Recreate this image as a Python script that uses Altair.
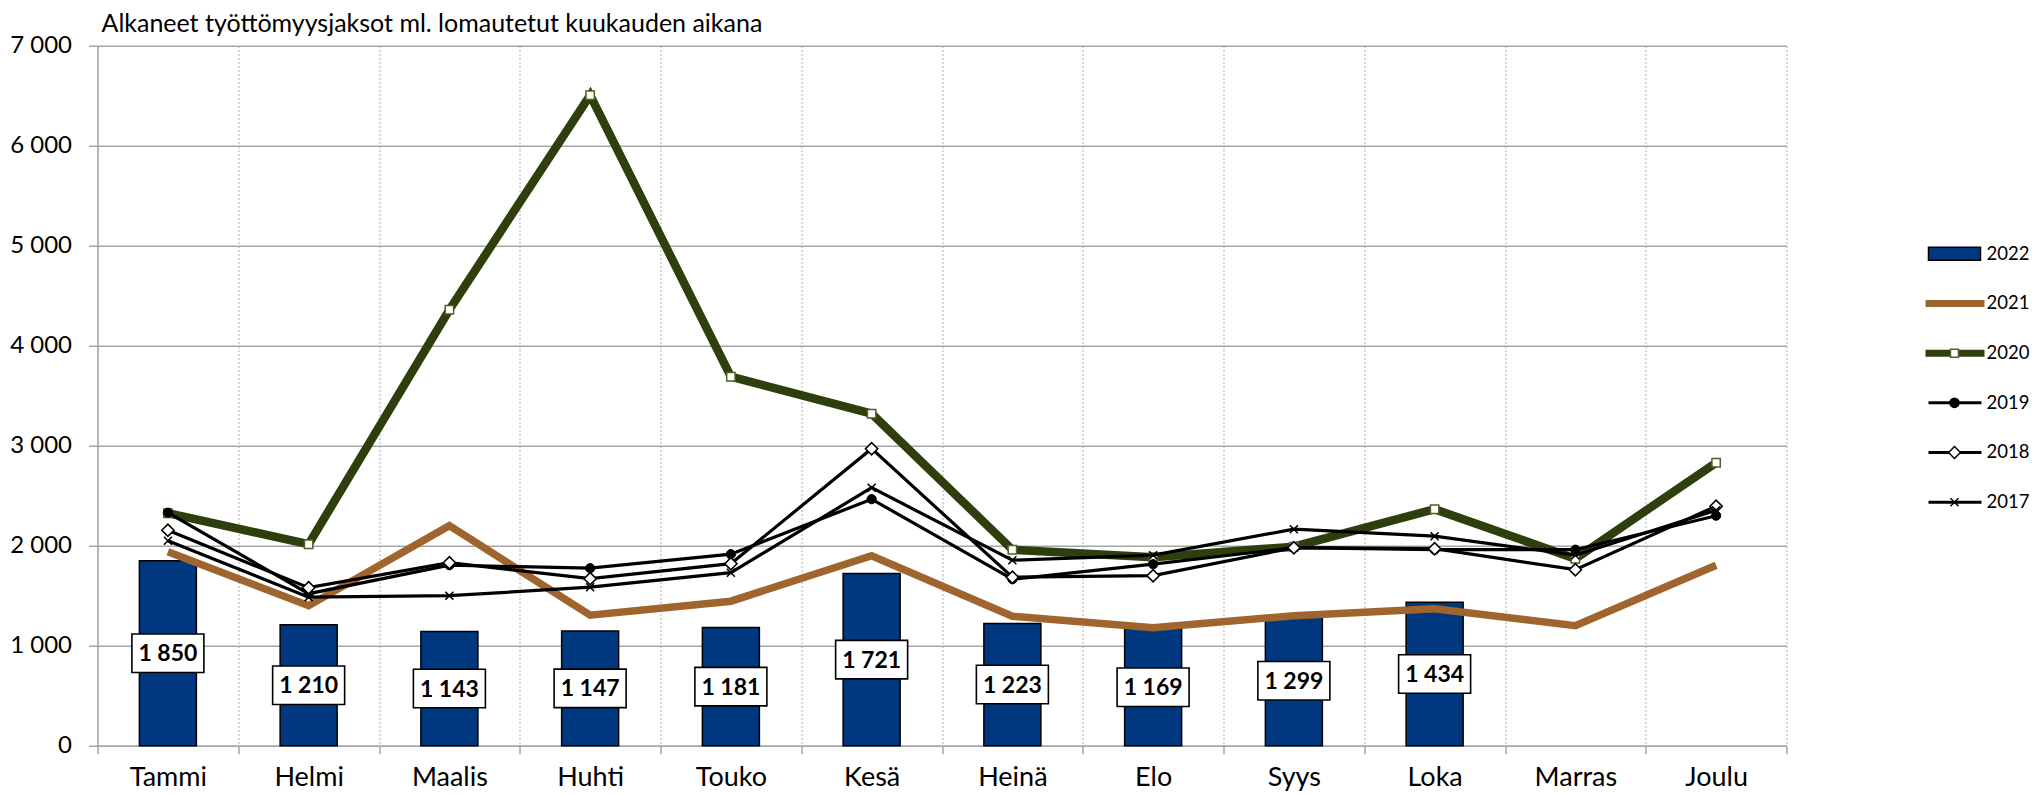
import altair as alt
import pandas as pd

# ---------------- data ----------------
months = ["Tammi", "Helmi", "Maalis", "Huhti", "Touko", "Kesä",
          "Heinä", "Elo", "Syys", "Loka", "Marras", "Joulu"]
v2022 = [1850, 1210, 1143, 1147, 1181, 1721, 1223, 1169, 1299, 1434]
v2021 = [1940, 1400, 2200, 1305, 1445, 1900, 1295, 1180, 1300, 1370, 1200, 1805]
v2020 = [2325, 2015, 4360, 6505, 3690, 3320, 1960, 1885, 1990, 2365, 1870, 2830]
v2019 = [2330, 1520, 1805, 1775, 1915, 2465, 1665, 1815, 1980, 1960, 1960, 2300]
v2018 = [2155, 1580, 1830, 1670, 1820, 2970, 1685, 1700, 1980, 1970, 1760, 2395]
v2017 = [2050, 1485, 1500, 1585, 1730, 2580, 1855, 1905, 2165, 2095, 1905, 2355]
years = ["2022", "2021", "2020", "2019", "2018", "2017"]
title_text = "Alkaneet työttömyysjaksot ml. lomautetut kuukauden aikana"

# ---------------- style ----------------
FONT = "Lato"
BLUE = "#00387F"
BROWN = "#A0652E"
GREEN = "#2E3F0D"
GRID = "#A6A6A6"
W, H = 1689, 700
LX = W + 139  # legend left edge (pixels from plot left)


def series_df(vals):
    return pd.DataFrame({"month": months[:len(vals)], "value": vals})


xenc = alt.X(
    "month:N", sort=months,
    scale=alt.Scale(domain=months, paddingInner=0, paddingOuter=0),
    axis=alt.Axis(
        tickBand="extent", grid=True, gridDash=[2, 2], gridColor="#ABABAB", gridWidth=1,
        ticks=True, tickSize=8, tickColor=GRID, tickWidth=1.5,
        domainColor=GRID, domainWidth=1.5,
        labelFont=FONT, labelFontSize=27, labelColor="black", labelPadding=11,
        labelAngle=0,
    ),
    title=None,
)
yscale = alt.Scale(domain=[0, 7000], nice=False, zero=True)
yaxis = alt.Axis(
    values=list(range(0, 7001, 1000)),
    labelExpr="replace(format(datum.value, ','), ',', ' ')",
    grid=True, gridColor=GRID, gridWidth=1.5,
    ticks=True, tickSize=9, tickColor=GRID, tickWidth=1.5,
    domainColor=GRID, domainWidth=1.5,
    labelFont=FONT, labelFontSize=24, labelColor="black", labelPadding=17,
)
yenc = alt.Y("value:Q", scale=yscale, axis=yaxis, title=None)

bars_df = series_df(v2022)
bars_df["label"] = [f"{v:,}".replace(",", " ") for v in v2022]

bars = alt.Chart(bars_df).mark_bar(
    size=57, color=BLUE, stroke="black", strokeWidth=1.5
).encode(x=xenc, y=yenc)


def line(vals, color, width):
    return alt.Chart(series_df(vals)).mark_line(
        color=color, strokeWidth=width
    ).encode(x=xenc, y=yenc)


def points(vals, **kw):
    return alt.Chart(series_df(vals)).mark_point(opacity=1, **kw).encode(x=xenc, y=yenc)


XSHAPE = "M-1,-1L1,1M-1,1L1,-1"
BOXSHAPE = "M-1,-0.535H1V0.535H-1Z"
LEGRECT = "M-1,-0.25H1V0.25H-1Z"

l2021 = line(v2021, BROWN, 7.5)
l2020 = line(v2020, GREEN, 8.5)
p2020 = points(v2020, shape="square", size=70, filled=True, fill="white",
               stroke="#4F6228", strokeWidth=1.5)
l2019 = line(v2019, "black", 3.2)
p2019 = points(v2019, shape="circle", size=85, filled=True, fill="black",
               stroke="black", strokeWidth=1)
l2018 = line(v2018, "black", 3.2)
p2018 = points(v2018, shape="diamond", size=150, filled=True, fill="white",
               stroke="black", strokeWidth=1.6)
l2017 = line(v2017, "black", 3.2)
p2017 = points(v2017, shape=XSHAPE, size=64, filled=False,
               stroke="black", strokeWidth=1.6)

yhalf = alt.Y("half:Q", scale=yscale, axis=yaxis, title=None)
boxes = alt.Chart(bars_df).transform_calculate(half="datum.value / 2").mark_point(
    shape=BOXSHAPE, size=72 * 72, filled=True, fill="white", stroke="black",
    strokeWidth=1.6, opacity=1
).encode(x=xenc, y=yhalf)
texts = alt.Chart(bars_df).transform_calculate(half="datum.value / 2").mark_text(
    font=FONT, fontSize=23, fontWeight="bold", color="black",
    align="center", baseline="middle", dy=1
).encode(x=xenc, y=yhalf, text="label:N")

main = alt.layer(bars, l2021, l2020, p2020, l2019, p2019, l2018, p2018,
                 l2017, p2017, boxes, texts)

# ---------------- legend ----------------
legend_df = pd.DataFrame({"year": years})
ly = alt.Y("year:N", scale=alt.Scale(domain=years, range=[183.3, 481.3], padding=0),
           axis=None)


def leg(year):
    return alt.Chart(legend_df).transform_filter(f"datum.year == '{year}'")


leg_parts = [
    leg("2022").mark_point(shape=LEGRECT, size=52 * 52, filled=True, fill=BLUE,
                           stroke="black", strokeWidth=1.5, opacity=1)
    .encode(x=alt.value(LX + 29), y=ly),
    leg("2021").mark_rule(color=BROWN, strokeWidth=7)
    .encode(x=alt.value(LX), x2=alt.value(LX + 59), y=ly),
    leg("2020").mark_rule(color=GREEN, strokeWidth=7)
    .encode(x=alt.value(LX), x2=alt.value(LX + 59), y=ly),
    leg("2020").mark_point(shape="square", size=64, filled=True, fill="white",
                           stroke="#4F6228", strokeWidth=1.5, opacity=1)
    .encode(x=alt.value(LX + 29), y=ly),
]
for yr in ["2019", "2018", "2017"]:
    leg_parts.append(leg(yr).mark_rule(color="black", strokeWidth=3)
                     .encode(x=alt.value(LX + 3), x2=alt.value(LX + 56), y=ly))
leg_parts += [
    leg("2019").mark_point(shape="circle", size=75, filled=True, fill="black",
                           stroke="black", opacity=1).encode(x=alt.value(LX + 29), y=ly),
    leg("2018").mark_point(shape="diamond", size=140, filled=True, fill="white",
                           stroke="black", strokeWidth=1.5, opacity=1)
    .encode(x=alt.value(LX + 29), y=ly),
    leg("2017").mark_point(shape=XSHAPE, size=64, filled=False, stroke="black",
                           strokeWidth=1.5, opacity=1).encode(x=alt.value(LX + 29), y=ly),
    alt.Chart(legend_df).mark_text(font=FONT, fontSize=18.5, align="left",
                                   baseline="middle", color="black")
    .encode(x=alt.value(LX + 61), y=ly, text="year:N"),
]
legend = alt.layer(*leg_parts)

chart = alt.layer(main, legend).resolve_scale(y="independent").properties(
    width=W, height=H,
    title=alt.TitleParams(text=title_text, anchor="start", frame="group", font=FONT,
                          fontSize=25, fontWeight="normal", color="black",
                          offset=-3, dx=4),
    padding={"left": 89.5, "top": 37.7, "right": 243.5, "bottom": 48},
    autosize=alt.AutoSizeParams(type="none"),
).configure_view(stroke=None)

chart.save("out.html", embed_options={"renderer": "svg", "actions": False})
